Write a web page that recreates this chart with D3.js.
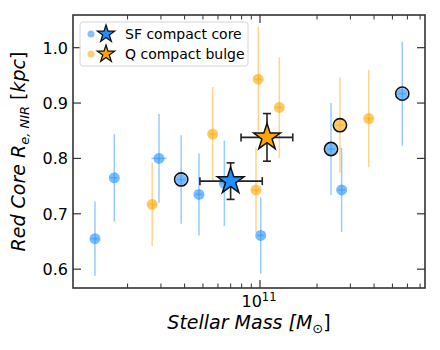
<!DOCTYPE html>
<html>
<head>
<meta charset="utf-8">
<script src="https://cdn.jsdelivr.net/npm/d3@7"></script>
<style>
  body { margin: 0; background: #fff; }
  svg text { font-family: "DejaVu Sans", sans-serif; fill: #000; }
</style>
</head>
<body>
<div id="chart"></div>
<script>
// SF compact cores (log stellar mass, core size, errors)
let sfMass = [10.129, 10.231, 10.467, 10.584, 10.678, 10.812, 11.004, 11.375, 11.431, 11.751];
let sfSize = [0.655, 0.765, 0.800, 0.762, 0.735, 0.755, 0.661, 0.817, 0.743, 0.917];
let sfErr  = [0.067, 0.079, 0.080, 0.080, 0.074, 0.077, 0.069, 0.083, 0.076, 0.094];
let sfMassErr = [0.02, 0.02, 0.04, 0.02, 0.02, 0.02, 0.02, 0.02, 0.02, 0.02];
let sfRing = [false, false, false, true, false, false, false, true, false, true];

// Q compact bulges
let qMass = [10.431, 10.750, 10.979, 10.991, 11.102, 11.422, 11.574];
let qSize = [0.717, 0.844, 0.743, 0.943, 0.892, 0.860, 0.872];
let qErr  = [0.075, 0.085, 0.077, 0.095, 0.091, 0.086, 0.088];
let qMassErr = [0.02, 0.02, 0.02, 0.02, 0.02, 0.02, 0.02];
let qRing = [false, false, false, false, false, true, false];

// medians (log mass with lower / upper bounds, size with error)
let sfMedian = { mass: 10.845, massLo: 10.683, massHi: 11.012, size: 0.759, err: 0.033 };
let qMedian  = { mass: 11.037, massLo: 10.900, massHi: 11.173, size: 0.838, err: 0.043 };

let yTicks = [0.6, 0.7, 0.8, 0.9, 1.0];
let legendLabels = ["SF compact core", "Q compact bulge"];

let blue = "#1e90ff", orange = "#ffa500";

let margin = { top: 15, right: 15, bottom: 62, left: 73 },
    width = 440 - margin.left - margin.right,
    height = 350 - margin.top - margin.bottom;

let svg = d3.select("#chart").append("svg")
    .attr("width", 440).attr("height", 350)
    .append("g")
    .attr("transform", "translate(" + margin.left + "," + margin.top + ")");

let x = d3.scaleLog()
    .domain([Math.pow(10, 10.013), Math.pow(10, 11.871)])
    .range([0, width]);
let y = d3.scaleLinear()
    .domain([0.566, 1.059])
    .range([height, 0]);

function lx(m) { return x(Math.pow(10, m)); }

// star path, outer radius r
function star(r) {
    let pts = [];
    for (let i = 0; i < 10; i++) {
        let rad = i % 2 == 0 ? r : r * 0.382;
        let a = Math.PI * i / 5;
        pts.push([rad * Math.sin(a), -rad * Math.cos(a)]);
    }
    return "M" + pts.map(p => p[0].toFixed(2) + "," + p[1].toFixed(2)).join("L") + "Z";
}

// ticks
let majorX = [1e11];
let minorX = [];
for (let k = 2; k <= 9; k++) minorX.push(k * 1e10);
for (let k = 2; k <= 7; k++) minorX.push(k * 1e11);

let axisCol = "#333";

function drawX(g, dir) {
    majorX.forEach(v => g.append("line").attr("x1", x(v)).attr("x2", x(v))
        .attr("y1", 0).attr("y2", dir * 8).attr("stroke", axisCol).attr("stroke-width", 1.2));
    minorX.forEach(v => g.append("line").attr("x1", x(v)).attr("x2", x(v))
        .attr("y1", 0).attr("y2", dir * 4.5).attr("stroke", axisCol).attr("stroke-width", 1));
}
drawX(svg.append("g").attr("transform", "translate(0," + height + ")"), -1);
drawX(svg.append("g"), 1);

function drawY(g, dir) {
    yTicks.forEach(v => g.append("line").attr("y1", y(v)).attr("y2", y(v))
        .attr("x1", 0).attr("x2", dir * 8).attr("stroke", axisCol).attr("stroke-width", 1.2));
}
drawY(svg.append("g"), 1);
drawY(svg.append("g").attr("transform", "translate(" + width + ",0)"), -1);

// tick labels
svg.selectAll(".ylab").data(yTicks).enter().append("text")
    .attr("x", -5).attr("y", d => y(d) + 6)
    .attr("text-anchor", "end").style("font-size", "16px")
    .text(d => d.toFixed(1));

let xl = svg.append("text").attr("x", x(1e11) - 1).attr("y", height + 19)
    .attr("text-anchor", "middle").style("font-size", "16px");
xl.append("tspan").text("10");
xl.append("tspan").attr("dy", -6).style("font-size", "11.5px").text("11");

// axis labels
let xt = svg.append("text").attr("x", width / 2).attr("y", height + 41)
    .attr("text-anchor", "middle").style("font-size", "19px").style("font-style", "italic");
xt.append("tspan").text("Stellar Mass [");
xt.append("tspan").text("M");
xt.append("tspan").attr("dy", 4).style("font-size", "13px").style("font-style", "normal").text("\u2299");
xt.append("tspan").attr("dy", -4).style("font-style", "normal").text("]");

let yt = svg.append("text")
    .attr("transform", "translate(" + (-48) + "," + (height / 2) + ") rotate(-90)")
    .attr("text-anchor", "middle").style("font-size", "19px").style("font-style", "italic");
yt.append("tspan").text("Red Core R");
yt.append("tspan").attr("dy", 4).style("font-size", "13px").text("e, NIR");
yt.append("tspan").attr("dy", -4).style("font-style", "normal").text(" [");
yt.append("tspan").text("kpc");
yt.append("tspan").style("font-style", "normal").text("]");

// individual points
function drawPoints(mass, size, err, merr, ring, col) {
    let g = svg.append("g");
    mass.forEach((m, i) => {
        g.append("line").attr("x1", lx(m)).attr("x2", lx(m))
            .attr("y1", y(size[i] - err[i])).attr("y2", y(size[i] + err[i]))
            .attr("stroke", col).attr("stroke-width", 1.5).attr("opacity", 0.45);
        g.append("line").attr("x1", lx(m - merr[i])).attr("x2", lx(m + merr[i]))
            .attr("y1", y(size[i])).attr("y2", y(size[i]))
            .attr("stroke", col).attr("stroke-width", 1.5).attr("opacity", 0.45);
        g.append("circle").attr("cx", lx(m)).attr("cy", y(size[i])).attr("r", 5.5)
            .attr("fill", col).attr("opacity", 0.6);
    });
    mass.forEach((m, i) => {
        if (ring[i]) g.append("circle").attr("cx", lx(m)).attr("cy", y(size[i])).attr("r", 6.6)
            .attr("fill", "none").attr("stroke", "#111").attr("stroke-width", 1.6);
    });
}
drawPoints(qMass, qSize, qErr, qMassErr, qRing, orange);
drawPoints(sfMass, sfSize, sfErr, sfMassErr, sfRing, blue);

// medians with error bars
function drawMedian(d, col) {
    let g = svg.append("g").attr("stroke", "#222").attr("stroke-width", 1.6);
    let cx = lx(d.mass), cy = y(d.size);
    let x0 = lx(d.massLo), x1 = lx(d.massHi);
    let y0 = y(d.size - d.err), y1 = y(d.size + d.err);
    g.append("line").attr("x1", x0).attr("x2", x1).attr("y1", cy).attr("y2", cy);
    g.append("line").attr("x1", cx).attr("x2", cx).attr("y1", y0).attr("y2", y1);
    [x0, x1].forEach(v => g.append("line").attr("x1", v).attr("x2", v).attr("y1", cy - 4).attr("y2", cy + 4));
    [y0, y1].forEach(v => g.append("line").attr("x1", cx - 4).attr("x2", cx + 4).attr("y1", v).attr("y2", v));
    svg.append("path").attr("d", star(14)).attr("transform", "translate(" + cx + "," + cy + ")")
        .attr("fill", col).attr("stroke", "#111").attr("stroke-width", 1.5);
}
drawMedian(sfMedian, blue);
drawMedian(qMedian, orange);

// spines
svg.append("rect").attr("width", width).attr("height", height)
    .attr("fill", "none").attr("stroke", axisCol).attr("stroke-width", 1.6);

// legend
let leg = svg.append("g").attr("transform", "translate(7,7)");
leg.append("rect").attr("width", 168).attr("height", 44).attr("rx", 3)
    .attr("fill", "#fff").attr("fill-opacity", 0.8).attr("stroke", "#d6d6d6");
[blue, orange].forEach((col, i) => {
    let yy = 12 + i * 20;
    leg.append("circle").attr("cx", 11).attr("cy", yy).attr("r", 3.5).attr("fill", col).attr("opacity", 0.55);
    leg.append("path").attr("d", star(9)).attr("transform", "translate(26," + yy + ")")
        .attr("fill", col).attr("stroke", "#111").attr("stroke-width", 1.3);
    leg.append("text").attr("x", 45).attr("y", yy + 5).style("font-size", "14px").text(legendLabels[i]);
});
</script>
</body>
</html>
